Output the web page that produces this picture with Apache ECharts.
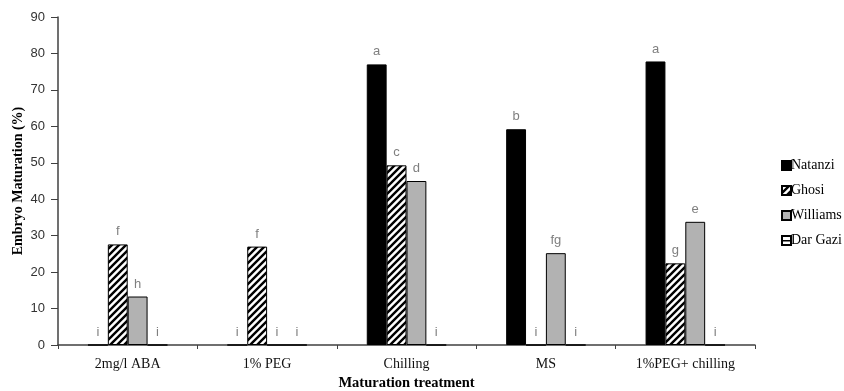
<!DOCTYPE html>
<html>
<head>
<meta charset="utf-8">
<script src="https://cdn.jsdelivr.net/npm/echarts@6/dist/echarts.min.js"></script>
<style>
  html, body { margin: 0; padding: 0; background: #fff; }
  #chart { width: 844px; height: 391px; }
</style>
</head>
<body>
<div id="chart"></div>
<script>
// Maturation treatments (x categories)
const treatments = ['2mg/l ABA', '1% PEG', 'Chilling', 'MS', '1%PEG+ chilling'];
const cultivars = ['Natanzi', 'Ghosi', 'Williams', 'Dar Gazi'];

// Embryo maturation (%) per cultivar
const natanzi  = [0, 0, 77.0, 59.2, 77.8];
const ghosi    = [27.6, 27.0, 49.3, 0, 22.4];
const williams = [13.3, 0, 45.0, 25.2, 33.8];
const darGazi  = [0, 0, 0, 0, 0];

// Mean separation letters
const natanziLetters  = ['i', 'i', 'a', 'b', 'a'];
const ghosiLetters    = ['f', 'f', 'c', 'i', 'g'];
const williamsLetters = ['h', 'i', 'd', 'fg', 'e'];
const darGaziLetters  = ['i', 'i', 'i', 'i', 'i'];

const yTicks = { min: 0, max: 90, interval: 10 };

// Diagonal hatch fill
function hatchPattern() {
  const s = 7;
  const c = document.createElement('canvas');
  c.width = s; c.height = s;
  const g = c.getContext('2d');
  g.fillStyle = '#fff';
  g.fillRect(0, 0, s, s);
  g.strokeStyle = '#000';
  g.lineWidth = 2.4;
  g.beginPath();
  g.moveTo(-1, 1); g.lineTo(1, -1);
  g.moveTo(0, s); g.lineTo(s, 0);
  g.moveTo(s - 1, s + 1); g.lineTo(s + 1, s - 1);
  g.stroke();
  return c;
}
// Horizontal stripe fill
function stripePattern() {
  const s = 9;
  const c = document.createElement('canvas');
  c.width = s; c.height = s;
  const g = c.getContext('2d');
  g.fillStyle = '#fff';
  g.fillRect(0, 0, s, s);
  g.fillStyle = '#000';
  g.fillRect(0, 4, s, 1.5);
  return c;
}

const serif = '"Liberation Serif", "DejaVu Serif", serif';
const sans = '"Liberation Sans", Arial, sans-serif';

function makeSeries(name, data, letters, fill) {
  return {
    name: name,
    type: 'bar',
    data: data,
    barGap: '0%',
    barCategoryGap: '43%',
    itemStyle: { color: fill, borderColor: '#000', borderWidth: 1 },
    label: {
      show: true,
      position: 'top',
      distance: 6,
      color: '#7f7f7f',
      fontFamily: sans,
      fontSize: 13,
      formatter: p => letters[p.dataIndex]
    }
  };
}

const chart = echarts.init(document.getElementById('chart'), null, { renderer: 'canvas' });
chart.setOption({
  animation: false,
  backgroundColor: '#fff',
  grid: { left: 58, right: 89, top: 17, bottom: 46, containLabel: false, outerBoundsMode: 'none' },
  legend: {
    orient: 'vertical',
    left: 776,
    top: 153,
    padding: 5,
    itemWidth: 9,
    itemHeight: 9,
    itemGap: 10,
    icon: 'rect',
    textStyle: { fontFamily: serif, fontSize: 14, lineHeight: 15, color: '#000', padding: [0, 0, 0, -5] },
    data: cultivars
  },
  xAxis: {
    type: 'category',
    data: treatments,
    name: 'Maturation treatment',
    nameLocation: 'middle',
    nameGap: 31,
    nameMoveOverlap: false,
    nameTextStyle: { fontFamily: serif, fontSize: 14.5, fontWeight: 'bold', color: '#000' },
    axisLine: { lineStyle: { color: '#404040', width: 1.5 } },
    axisTick: { show: true, length: 4, lineStyle: { color: '#404040' } },
    axisLabel: { fontFamily: serif, fontSize: 14, color: '#111', margin: 12 }
  },
  yAxis: {
    type: 'value',
    min: yTicks.min,
    max: yTicks.max,
    interval: yTicks.interval,
    name: 'Embryo Maturation (%)',
    nameLocation: 'middle',
    nameGap: 33,
    nameMoveOverlap: false,
    nameTextStyle: { fontFamily: serif, fontSize: 14, fontWeight: 'bold', color: '#000' },
    axisLine: { show: true, lineStyle: { color: '#404040', width: 1.5 } },
    axisTick: { show: true, length: 7, lineStyle: { color: '#404040' } },
    axisLabel: { fontFamily: sans, fontSize: 13, color: '#333', margin: 13 },
    splitLine: { show: false }
  },
  series: [
    makeSeries('Natanzi', natanzi, natanziLetters, '#000'),
    makeSeries('Ghosi', ghosi, ghosiLetters, { image: hatchPattern(), repeat: 'repeat' }),
    makeSeries('Williams', williams, williamsLetters, '#b2b2b2'),
    makeSeries('Dar Gazi', darGazi, darGaziLetters, { image: stripePattern(), repeat: 'repeat' })
  ]
});
</script>
</body>
</html>
